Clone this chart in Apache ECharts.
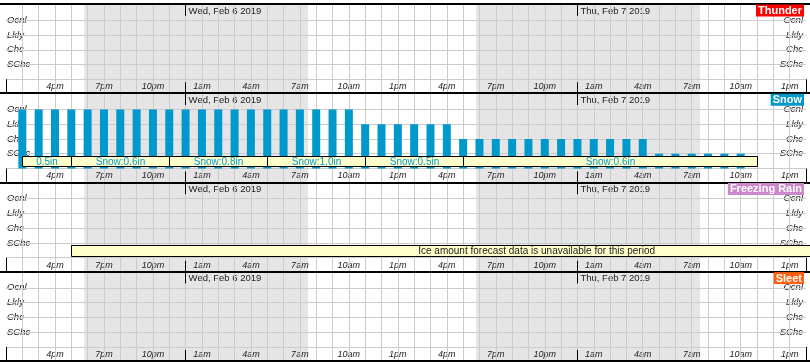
<!DOCTYPE html>
<html><head><meta charset="utf-8">
<script src="https://cdn.jsdelivr.net/npm/echarts@6/dist/echarts.min.js"></script>
<style>html,body{margin:0;padding:0;background:#fff}#c{width:810px;height:364px}</style>
</head><body><div id="c"></div>
<script>
// ---- data ----
const panelNames = ['Thunder', 'Snow', 'Freezing Rain', 'Sleet'];
const panelColors = ['#ff0000', '#0099cc', '#cc88cc', '#ff6010'];
const levelValues = [1, 2, 3, 4];
const levelNames = ['SChc', 'Chc', 'Lkly', 'Ocnl'];
// hours counted from Tue Feb 5 2019 00:00
const hourTicks = [16, 19, 22, 25, 28, 31, 34, 37, 40, 43, 46, 49, 52, 55, 58, 61];
const hourTickLabels = ['4pm', '7pm', '10pm', '1am', '4am', '7am', '10am', '1pm', '4pm', '7pm', '10pm', '1am', '4am', '7am', '10am', '1pm'];
const dateHours = [24, 48];
const dateLabels = ['Wed, Feb 6 2019', 'Thu, Feb 7 2019'];
const nightStart = [17.8, 41.8];
const nightEnd = [31.5, 55.5];
const snowHours = [14, 15, 16, 17, 18, 19, 20, 21, 22, 23, 24, 25, 26, 27, 28, 29, 30, 31, 32, 33, 34,
  35, 36, 37, 38, 39, 40,
  41, 42, 43, 44, 45, 46, 47, 48, 49, 50, 51, 52,
  53, 54, 55, 56, 57, 58];
const snowLevel = [4, 4, 4, 4, 4, 4, 4, 4, 4, 4, 4, 4, 4, 4, 4, 4, 4, 4, 4, 4, 4,
  3, 3, 3, 3, 3, 3,
  2, 2, 2, 2, 2, 2, 2, 2, 2, 2, 2, 2,
  1, 1, 1, 1, 1, 1];
const snowAmtStart = [14, 17, 23, 29, 35, 41];
const snowAmtEnd = [17, 23, 29, 35, 41, 59];
const snowAmtText = ['0.5in', 'Snow:0.6in', 'Snow:0.8in', 'Snow:1.0in', 'Snow:0.5in', 'Snow:0.6in'];
const iceStart = [17];
const iceEnd = [80];
const iceTextHour = [45.5];
const iceText = ['Ice amount forecast data is unavailable for this period'];

// ---- layout / style ----
const FONT = '"Liberation Sans", Arial, sans-serif';
const panelTops = [4, 93.2, 182.4, 271.6];
const panelH = 89.2;
const xMin = 13, xMax = 62;
const yMin = -0.94, yMax = 5.1;
const boxTop = 0.88, boxBot = 0.14;
const tickTop = -0.2, topTickEnd = 4.3;
const gridHours = [];
for (let h = xMin + 1; h < xMax; h++) gridHours.push(h);

const chart = echarts.init(document.getElementById('c'), null, {renderer: 'canvas'});
const grid = [], xAxis = [], yAxis = [], series = [], title = [];

function snap(v) { return Math.round(v) + 0.5; }

function boxRender(textColor, textArr, textHourArr) {
  return function (params, api) {
    const i = api.value(2);
    const p1 = api.coord([api.value(0), boxTop]);
    const p2 = api.coord([api.value(1), boxBot]);
    const x1 = snap(p1[0]), y1 = snap(p1[1]), x2 = snap(p2[0]), y2 = snap(p2[1]);
    let tx = (x1 + x2) / 2;
    if (textHourArr) tx = api.coord([textHourArr[i], 0])[0];
    return {
      type: 'group',
      children: [
        {type: 'rect', shape: {x: x1, y: y1, width: x2 - x1, height: y2 - y1},
          style: {fill: '#ffffcc', stroke: '#000', lineWidth: 1}},
        {type: 'text', style: {text: textArr[i], x: tx, y: (y1 + y2) / 2 + 0.5, align: 'center', verticalAlign: 'middle',
          fill: textColor, font: '10px ' + FONT}}
      ]
    };
  };
}

panelNames.forEach(function (name, i) {
  const T = panelTops[i];
  grid.push({left: 6, width: 800, top: T, height: panelH, containLabel: false});
  // bottom axis (hour labels)
  xAxis.push({
    gridIndex: i, type: 'value', min: xMin, max: xMax, interval: 1, position: 'bottom',
    axisLine: {show: true, onZero: false, lineStyle: {color: '#000', width: 2}},
    splitLine: {show: false},
    axisTick: {show: false},
    axisLabel: {show: true, inside: true, margin: 2, customValues: hourTicks,
      formatter: function (v) { return hourTickLabels[hourTicks.indexOf(v)]; },
      fontStyle: 'italic', fontSize: 9, color: '#222', fontFamily: FONT}
  });
  // top axis (date labels)
  xAxis.push({
    gridIndex: i, type: 'value', min: xMin, max: xMax, interval: 1, position: 'top',
    axisLine: {show: true, onZero: false, lineStyle: {color: '#000', width: 2}},
    splitLine: {show: false},
    axisTick: {show: false},
    axisLabel: {show: true, inside: true, margin: 2, customValues: dateHours, align: 'left', padding: [0, 0, 0, 3],
      formatter: function (v) { return dateLabels[dateHours.indexOf(v)]; },
      fontSize: 9.5, color: '#222', fontFamily: FONT}
  });
  const yl = {
    gridIndex: i, type: 'value', min: yMin, max: yMax,
    axisLine: {show: false, onZero: false}, axisTick: {show: false}, splitLine: {show: false},
    axisLabel: {show: true, inside: true, customValues: levelValues,
      formatter: function (v) { return levelNames[levelValues.indexOf(v)]; },
      fontStyle: 'italic', fontSize: 9.5, color: '#222', fontFamily: FONT, padding: [0, 0, 2, 0]}
  };
  yAxis.push(Object.assign({}, yl, {position: 'left', axisLabel: Object.assign({}, yl.axisLabel, {margin: 1})}));
  yAxis.push(Object.assign({}, yl, {position: 'right', axisLabel: Object.assign({}, yl.axisLabel, {margin: 3})}));

  const xi = 2 * i, yi = 2 * i;
  // night shading
  series.push({
    type: 'line', xAxisIndex: xi, yAxisIndex: yi, data: [], silent: true, z: -5,
    markArea: {silent: true, z: -5, itemStyle: {color: '#e5e5e5'},
      data: nightStart.map(function (s, k) { return [{xAxis: s}, {xAxis: nightEnd[k]}]; })}
  });
  // grid lines
  const black = {color: '#000', type: 'solid', width: 1};
  const lines = gridHours.map(function (h) { return {xAxis: h}; })
    .concat([0].concat(levelValues).map(function (v) { return {yAxis: v}; }));
  series.push({
    type: 'line', xAxisIndex: xi, yAxisIndex: yi, data: [], silent: true, z: 1,
    markLine: {silent: true, z: 1, symbol: ['none', 'none'], label: {show: false}, animation: false,
      lineStyle: {color: '#cccccc', width: 1, type: 'solid'},
      data: lines}
  });
  // label-row side borders, midnight ticks
  series.push({
    type: 'line', xAxisIndex: xi, yAxisIndex: yi, data: [], silent: true, z: 4,
    markLine: {silent: true, z: 4, symbol: ['none', 'none'], label: {show: false}, animation: false,
      lineStyle: black,
      data: [
        [{coord: [xMin, yMin]}, {coord: [xMin, 0]}],
        [{coord: [xMax, yMin]}, {coord: [xMax, 0]}]
      ].concat(dateHours.map(function (h) {
        return [{coord: [h, yMin]}, {coord: [h, tickTop]}];
      })).concat(dateHours.map(function (h) {
        return [{coord: [h, yMax]}, {coord: [h, topTickEnd]}];
      }))}
  });
  title.push({
    text: name, right: 6, top: T + 1, padding: [1, 2, 0, 2], backgroundColor: panelColors[i],
    textStyle: {color: '#fff', fontSize: 11, fontWeight: 'bold', lineHeight: 10, fontFamily: FONT}
  });
});

// full-width panel separator lines (frame grids)
panelNames.forEach(function (name, i) {
  const gi = panelNames.length + i;
  grid.push({left: 0, right: 0, top: panelTops[i], height: panelH, containLabel: false});
  ['bottom', 'top'].forEach(function (pos) {
    xAxis.push({gridIndex: gi, type: 'value', min: 0, max: 1, position: pos,
      axisLine: {show: true, onZero: false, lineStyle: {color: '#000', width: 2}},
      axisTick: {show: false}, axisLabel: {show: false}, splitLine: {show: false}, z: 5});
  });
  yAxis.push({gridIndex: gi, type: 'value', min: 0, max: 1, show: false});
});

// snow bars
series.push({
  type: 'bar', xAxisIndex: 2, yAxisIndex: 2, barWidth: 8, z: 2,
  itemStyle: {color: '#0099cc'},
  data: snowHours.map(function (h, k) { return [h, snowLevel[k]]; })
});
// snow amount boxes
series.push({
  type: 'custom', xAxisIndex: 2, yAxisIndex: 2, z: 3, clip: false,
  renderItem: boxRender('#0099cc', snowAmtText, null),
  data: snowAmtStart.map(function (s, k) { return [s, snowAmtEnd[k], k]; })
});
// ice amount box
series.push({
  type: 'custom', xAxisIndex: 4, yAxisIndex: 4, z: 3, clip: false,
  renderItem: boxRender('#222', iceText, iceTextHour),
  data: iceStart.map(function (s, k) { return [s, iceEnd[k], k]; })
});

chart.setOption({animation: false, backgroundColor: '#fff', title: title, grid: grid, xAxis: xAxis, yAxis: yAxis, series: series});
</script></body></html>
